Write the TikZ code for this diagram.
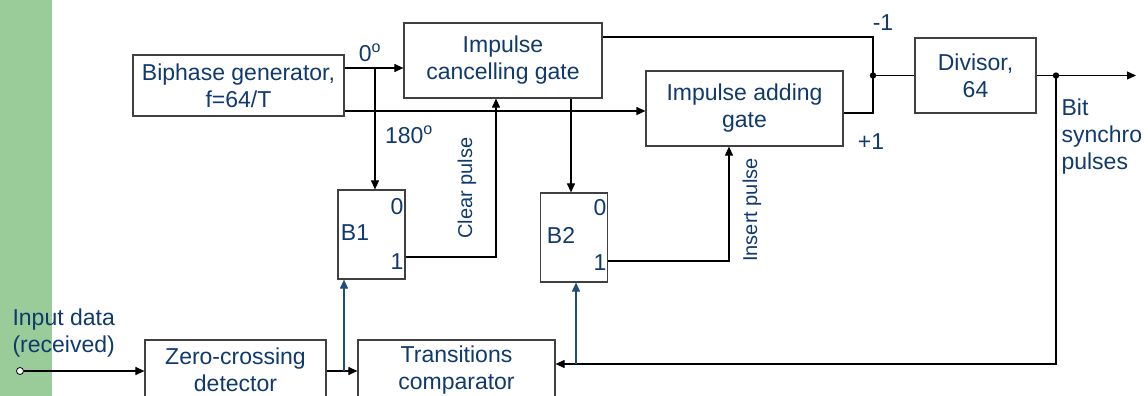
\documentclass[tikz,border=0pt]{standalone}
\usepackage{fontspec}
\setmainfont{Liberation Sans}
\usetikzlibrary{arrows.meta}
\definecolor{txtblue}{RGB}{16,58,110}
\definecolor{wireblue}{RGB}{31,78,121}
\definecolor{boxgray}{RGB}{64,64,64}
\definecolor{band}{RGB}{153,204,153}

\begin{document}
\begin{tikzpicture}[x=1pt,y=-1pt,>={Triangle[length=9pt,width=8pt]},line width=1.1pt,
  box/.style={draw=boxgray,line width=1.2pt,fill=white,align=center,text=txtblue,font=\fontsize{23}{27}\selectfont,inner sep=0pt},
  blk/.style={box,minimum width=67,minimum height=89},
  lab/.style={text=txtblue,font=\fontsize{23}{27}\selectfont,align=left,inner sep=0pt},
  side/.style={lab,font=\fontsize{20}{24}\selectfont,rotate=90},
  port/.style={circle,draw,fill=white,inner sep=0pt,minimum size=7pt,line width=0.8pt}]
\useasboundingbox (0,0) rectangle (1148,396);
\clip (0,0) rectangle (1148,396);
\fill[band] (0,0) rectangle (52,396);
\node[box,minimum width=211,minimum height=61] (G) at (238.5,85.5) {Biphase generator,\\f=64/T};
\node[box,minimum width=198,minimum height=75] (C) at (503,60.5) {Impulse\\cancelling gate};
\node[box,minimum width=197,minimum height=75] (A) at (744.5,108.5) {Impulse adding\\gate};
\node[box,minimum width=121,minimum height=75] (D) at (975.5,75.5) {Divisor,\\64};
\node[blk] (B1) at (371.5,234.5) {};
\node[blk] (B2) at (574,237.5) {};
\node[box,minimum width=181,minimum height=60] (Z) at (235.5,370) {Zero-crossing\\detector};
\node[box,minimum width=197,minimum height=60] (T) at (456.5,370) {Transitions\\comparator};
\node[lab] (B1n) at (355,233) {B1};
\node[lab] (B1z) at (397,207) {0};
\node[lab] (B1o) at (397,262) {1};
\node[lab] (B2n) at (561,235) {B2};
\node[lab] (B2z) at (600,208) {0};
\node[lab] (B2o) at (600,263) {1};
\node[port] (IN) at (20,371) {};
\coordinate (P0) at (375,68);
\coordinate (J1) at (873,75.5);
\coordinate (J2) at (1056,75.5);
\coordinate (OUT) at (1136,75.5);
\coordinate (P1) at (344,371);
\coordinate (P2) at (576,364);
\draw[->] (G.east |- P0) -- (C.west |- P0);
\draw[->] (P0) -- (B1.north -| P0);
\draw[->] (G.east |- 0,111) -- (A.west |- 0,111);
\draw (C.east |- 0,37) -| (J1) -- (J1 |- 0,113) -- (A.east |- 0,113);
\draw (J1) -- (D.west);
\draw[->] (D.east) -- (OUT);
\draw[->] (J2) |- (T.east |- P2);
\draw[->] (C.south -| 571,0) -- (B2.north -| 571,0);
\draw[->] (B1.east |- 0,257) -| (C.south -| 496,0);
\draw[->] (B2.east |- 0,261) -| (A.south -| 729,0);
\draw[->] (IN) -- (Z.west |- IN);
\draw[->] (Z.east |- P1) -- (T.west |- P1);
\draw[->,wireblue] (P1) -- (B1.south -| P1);
\draw[->,wireblue] (P2) -- (B2.south -| P2);
\fill (J1) circle (3.2); \fill (J2) circle (3.2);
\node[lab] (L0) at (370,53) {0\textsuperscript{o}};
\node[lab] (L180) at (409,135) {180\textsuperscript{o}};
\node[lab] (Lm) at (883,23) {-1};
\node[lab] (Lp) at (871,142) {+1};
\node[lab,anchor=west] (Lbit) at (1061,137) {Bit\\synchro\\pulses};
\node[lab,anchor=west] (Lin) at (12,333) {Input data\\(received)};
\node[side] (Lclr) at (467,188) {Clear pulse};
\node[side] (Lins) at (752,210) {Insert pulse};
\end{tikzpicture}
\end{document}
